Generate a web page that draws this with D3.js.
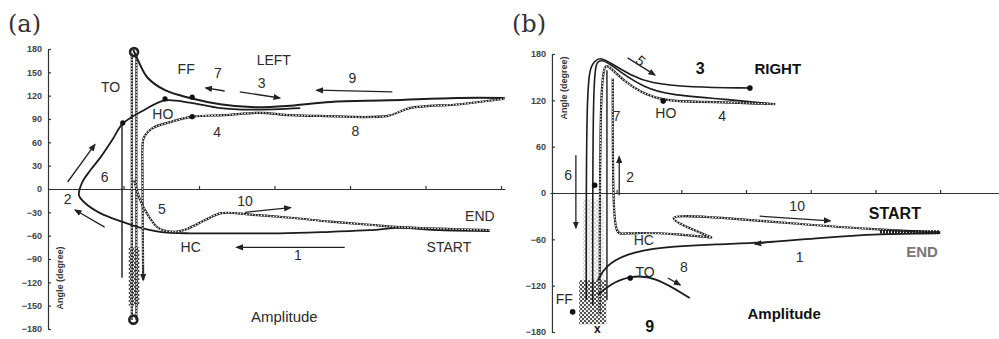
<!DOCTYPE html>
<html>
<head>
<meta charset="utf-8">
<script src="https://cdn.jsdelivr.net/npm/d3@7"></script>
<style>
body { margin: 0; background: #fff; }
svg { display: block; }
.tick text { font-family: "Liberation Sans", Arial, sans-serif; font-size: 9px; font-weight: bold; fill: #444; }
.tick line, .domain { stroke: #333; stroke-width: 1.2; }
.note { font-family: "Liberation Sans", Arial, sans-serif; font-size: 14px; fill: #2b2b2b; }
.bold { font-family: "Liberation Sans", Arial, sans-serif; font-weight: bold; fill: #111; }
.panel { font-family: "DejaVu Serif", "Liberation Serif", serif; font-size: 24px; fill: #333; }
.ylab { font-family: "Liberation Sans", Arial, sans-serif; font-size: 9px; font-weight: bold; fill: #333; }
</style>
</head>
<body>
<svg id="chart" width="999" height="339"></svg>
<script>
let leftTicks = [180, 150, 120, 90, 60, 30, 0, -30, -60, -90, -120, -150, -180];
let rightTicks = [180, 120, 60, 0, -60, -120, -180];
let ampTicks = [1, 2, 3, 4, 5, 6];

// (a) LEFT, points are [amplitude, angle]
let leftFF = [[1.13,179],[1.19,166],[1.32,143],[1.55,127],[1.88,117],[2.28,109],[2.74,105],[3.21,107],[3.74,112],[4.53,114],[5.42,117],[6.05,117]];
let leftMain = [[5.85,-54],[5.19,-53],[4.66,-50],[4.26,-53],[3.74,-55],[3.07,-57],[2.41,-57],[1.88,-57],[1.48,-55],[1.23,-50],[0.98,-42],[0.69,-31],[0.49,-18],[0.41,-8],[0.45,8],[0.56,24],[0.69,40],[0.85,63],[0.99,84],[1.28,102],[1.55,114],[1.88,111],[2.28,104],[2.68,102],[3.34,104]];
let leftLow = [[1.26,-117],[1.25,37],[1.25,50],[1.27,66],[1.38,78],[1.62,86],[1.91,93],[2.34,95],[2.81,98],[3.21,95],[3.60,94],[4.50,94],[4.79,104],[5.46,109],[6.05,116]];
let leftHC = [[1.14,12],[1.22,-14],[1.32,-33],[1.46,-50],[1.68,-55],[1.85,-51],[2.08,-40],[2.30,-31],[2.68,-33],[3.21,-37],[3.74,-42],[4.26,-46],[4.66,-49],[5.19,-51],[5.85,-53]];
let leftV1 = [[0.98,85],[0.98,-114]];
let leftV2a = [[1.11,175],[1.11,-168]];
let leftV2b = [[1.17,172],[1.17,-168]];
let leftBlock = [1.07, -75, 1.21, -150];
let leftArrows = [[0.75,-49,0.36,-27],[0.26,9,0.62,57],[2.34,126,2.09,130],[2.54,125,3.07,117],[4.56,125,3.56,127],[2.61,-30,3.21,-24],[3.93,-75,2.50,-75],[1.26,-100,1.26,-117]];
let leftDots = [[0.99,85],[1.55,116],[1.91,93],[1.91,118]];
let leftBlobs = [[1.14,176],[1.13,-168]];
let leftNotes = [["TO",0.83,130],["FF",1.83,152],["7",2.25,148],["LEFT",2.99,164],["3",2.83,135],["9",4.03,141],["HO",1.52,95],["4",2.24,71],["8",4.07,73],["6",0.75,14],["2",0.26,-14],["5",1.51,-28],["10",2.61,-17],["END",5.72,-37],["HC",1.89,-76],["1",3.31,-86],["START",5.31,-76]];

// (b) RIGHT
let rightOuter = [[0.53,-139],[0.53,146],[0.62,168],[0.74,177],[0.93,167],[1.21,153],[1.51,142],[2.13,137],[3.06,136]];
let rightMid = [[0.63,-145],[0.63,159],[0.71,172],[0.82,172],[1.05,157],[1.44,136],[1.82,127],[2.60,122],[3.45,115]];
let rightBand = [[0.74,-158],[0.74,170],[0.87,165],[1.13,144],[1.36,131],[1.72,119],[2.29,118],[2.91,117],[3.45,115]];
let rightV5 = [[0.85,-139],[0.85,159]];
let rightHC = [[0.94,149],[0.94,-48],[1.05,-54],[1.24,-51],[1.98,-53],[2.49,-58],[2.49,-58],[1.55,-26],[2.60,-32],[3.83,-40],[4.91,-47],[6.00,-51]];
let rightStart = [[6.00,-52],[5.07,-53],[4.14,-58],[3.21,-65],[2.60,-66],[1.67,-70],[1.13,-79],[0.82,-95],[0.71,-113]];
let rightTO = [[0.71,-132],[0.90,-118],[1.21,-107],[1.59,-108],[2.13,-136]];
let rightThick = [[5.07,-50],[6.00,-51]];
let rightBlock = [0.42, -113, 0.84, -170];
let rightColumn = [0.48, -8, 0.80, -113];
let rightArrows = [[1.17,175,1.59,153],[0.37,49,0.37,-45],[1.04,-3,1.04,47],[3.21,-30,4.30,-36],[1.79,-110,1.98,-119],[3.45,-63,3.14,-66]];
let rightDots = [[3.06,136],[1.72,119],[1.21,-110],[0.32,-154],[0.66,10]];
let rightNotes = [["HO",1.76,102],["4",2.63,98],["7",1.00,98],["6",0.25,21],["2",1.21,19],["10",3.79,-18],["HC",1.42,-63],["1",3.83,-84],["TO",1.44,-104],["8",2.04,-97],["FF",0.19,-139]];
let rightBoldNotes = [["3",2.29,159,16,"#111"],["RIGHT",3.49,159,15,"#111"],["START",5.30,-28,16,"#111"],["END",5.72,-78,15,"#777"],["9",1.51,-174,16,"#111"],["Amplitude",3.59,-158,15,"#111"]];

let svg = d3.select("#chart");
let defs = svg.append("defs");

defs.append("marker")
    .attr("id", "ah")
    .attr("viewBox", "0 0 10 10")
    .attr("refX", 8).attr("refY", 5)
    .attr("markerWidth", 6).attr("markerHeight", 6)
    .attr("orient", "auto")
    .append("path").attr("d", "M0,1L10,5L0,9Z").attr("fill", "#222");

let pat = defs.append("pattern").attr("id", "chk")
    .attr("width", 4).attr("height", 4).attr("patternUnits", "userSpaceOnUse");
pat.append("rect").attr("width", 4).attr("height", 4).attr("fill", "#eee");
pat.append("rect").attr("width", 2).attr("height", 2).attr("fill", "#333");
pat.append("rect").attr("x", 2).attr("y", 2).attr("width", 2).attr("height", 2).attr("fill", "#333");

let xL = d3.scaleLinear().domain([0, 6.05]).range([48, 504.8]);
let yL = d3.scaleLinear().domain([-180, 180]).range([329, 49]);
let xR = d3.scaleLinear().domain([-0.03, 6.91]).range([550, 999]);
let yR = d3.scaleLinear().domain([-180, 180]).range([332, 54]);

function drawPanel(x, y, ticks, ylabX, ylabY, curve) {
    let g = svg.append("g");

    g.append("g")
        .attr("transform", "translate(" + x(0) + ",0)")
        .call(d3.axisLeft(y).tickValues(ticks).tickSizeInner(-3).tickSizeOuter(0).tickPadding(6));

    g.append("g")
        .attr("transform", "translate(0," + y(0) + ")")
        .call(d3.axisTop(x).tickValues(ampTicks).tickFormat("").tickSizeInner(3).tickSizeOuter(0));

    g.append("text").attr("class", "ylab")
        .attr("transform", "translate(" + ylabX + "," + ylabY + ") rotate(-90)")
        .attr("text-anchor", "middle").attr("dominant-baseline", "middle")
        .text("Angle (degree)");

    let line = d3.line()
        .x(d => x(d[0])).y(d => y(d[1]))
        .curve(curve);

    return {
        g: g,
        path: function (pts, w, dash, col) {
            g.append("path").attr("d", line(pts))
                .attr("fill", "none")
                .attr("stroke", col || "#1c1c1c")
                .attr("stroke-width", w)
                .attr("stroke-linejoin", "round")
                .attr("stroke-dasharray", dash || null);
        },
        beads: function (pts) {
            this.path(pts, 2.2);
            this.path(pts, 1.2, "1.5,1.5", "#fff");
        },
        block: function (b, op) {
            g.append("rect")
                .attr("x", x(b[0])).attr("y", y(b[1]))
                .attr("width", x(b[2]) - x(b[0])).attr("height", y(b[3]) - y(b[1]))
                .attr("fill", "url(#chk)").attr("opacity", op);
        },
        arrows: function (list) {
            g.selectAll(null).data(list).enter().append("line")
                .attr("x1", d => x(d[0])).attr("y1", d => y(d[1]))
                .attr("x2", d => x(d[2])).attr("y2", d => y(d[3]))
                .attr("stroke", "#222").attr("stroke-width", 1.3)
                .attr("marker-end", "url(#ah)");
        },
        dots: function (list, r) {
            g.selectAll(null).data(list).enter().append("circle")
                .attr("cx", d => x(d[0])).attr("cy", d => y(d[1]))
                .attr("r", r).attr("fill", "#111");
        },
        notes: function (list) {
            g.selectAll(null).data(list).enter().append("text")
                .attr("class", "note")
                .attr("x", d => x(d[1])).attr("y", d => y(d[2]))
                .attr("text-anchor", "middle").attr("dominant-baseline", "middle")
                .text(d => d[0]);
        }
    };
}

// ---- panel (a)
let pa = drawPanel(xL, yL, leftTicks, 61, 278, d3.curveCatmullRom.alpha(0.5));
pa.block(leftBlock, 0.9);
pa.path(leftV1, 1.4);
pa.beads(leftV2a);
pa.beads(leftV2b);
pa.path(leftFF, 2);
pa.path(leftMain, 1.8);
pa.beads(leftLow);
pa.beads(leftHC);
pa.arrows(leftArrows);
pa.dots(leftDots, 2.6);
pa.g.selectAll(null).data(leftBlobs).enter().append("circle")
    .attr("cx", d => xL(d[0])).attr("cy", d => yL(d[1]))
    .attr("r", 4).attr("fill", "none").attr("stroke", "#222").attr("stroke-width", 2.6);
pa.notes(leftNotes);
pa.g.append("text").attr("class", "note")
    .attr("x", xL(3.13)).attr("y", yL(-166))
    .attr("text-anchor", "middle").attr("dominant-baseline", "middle")
    .style("font-size", "15px")
    .text("Amplitude");
svg.append("text").attr("class", "panel").attr("x", 8).attr("y", 32).text("(a)");

// ---- panel (b)
let pb = drawPanel(xR, yR, rightTicks, 565, 88, d3.curveBasis);
pb.block(rightColumn, 0.18);
pb.block(rightBlock, 0.85);
pb.path(rightOuter, 1.6);
pb.path(rightMid, 1.6);
pb.beads(rightBand);
pb.path(rightV5, 1.4);
pb.beads(rightHC);
pb.path(rightStart, 1.8);
pb.path(rightTO, 1.8);
pb.path(rightThick, 4, "2,1");
pb.arrows(rightArrows);
pb.dots(rightDots, 2.8);
pb.notes(rightNotes);
pb.g.append("text").attr("class", "note")
    .attr("transform", "translate(" + xR(1.36) + "," + yR(170) + ") rotate(40)")
    .attr("text-anchor", "middle").attr("dominant-baseline", "middle")
    .text("5");
pb.g.selectAll(null).data(rightBoldNotes).enter().append("text")
    .attr("class", "bold")
    .attr("x", d => xR(d[1])).attr("y", d => yR(d[2]))
    .attr("text-anchor", "middle").attr("dominant-baseline", "middle")
    .style("font-size", d => d[3] + "px")
    .style("fill", d => d[4])
    .text(d => d[0]);
pb.g.append("text").attr("class", "bold")
    .attr("x", xR(0.70)).attr("y", yR(-177))
    .attr("text-anchor", "middle").attr("dominant-baseline", "middle")
    .style("font-size", "12px").text("x");
svg.append("text").attr("class", "panel").attr("x", 512).attr("y", 32).text("(b)");
</script>
</body>
</html>
